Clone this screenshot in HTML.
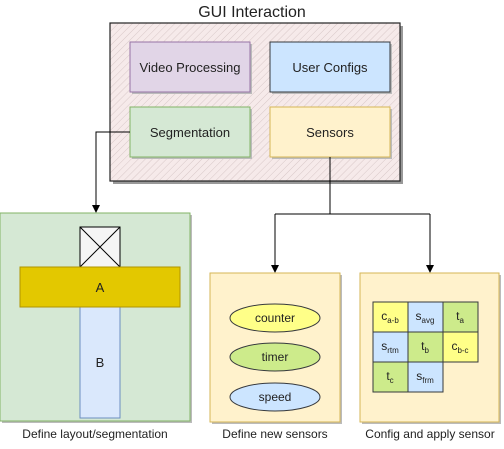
<!DOCTYPE html>
<html><head><style>
body{margin:0;width:504px;height:444px;background:#fff;overflow:hidden}
svg{font-family:"Liberation Sans",sans-serif}
</style></head><body>
<svg width="504" height="444" viewBox="0 0 504 444">
<defs>
<pattern id="h" width="5" height="5" patternUnits="userSpaceOnUse" patternTransform="rotate(45)">
<rect width="5" height="5" fill="#f6eaea"/>
<line x1="0" y1="0" x2="0" y2="5" stroke="#d8c8c8" stroke-width="1"/>
</pattern>
</defs>
<text x="252" y="17" font-size="16" text-anchor="middle" fill="#222">GUI Interaction</text>
<rect x="113" y="26" width="290" height="158" fill="#999"/>
<rect x="110" y="23" width="290" height="158" fill="url(#h)" stroke="#222" stroke-width="1.2"/>
<g stroke-width="1">
<rect x="132" y="44" width="120" height="50" fill="#bbb"/>
<rect x="130" y="42" width="120" height="50" fill="#e1d5e7" stroke="#9673a6"/>
<rect x="272" y="44" width="120" height="50" fill="#bbb"/>
<rect x="270" y="42" width="120" height="50" fill="#cce5ff" stroke="#36393d"/>
<rect x="132" y="109" width="120" height="50" fill="#bbb"/>
<rect x="130" y="107" width="120" height="50" fill="#d5e8d4" stroke="#82b366"/>
<rect x="272" y="109" width="120" height="50" fill="#bbb"/>
<rect x="270" y="107" width="120" height="50" fill="#fff2cc" stroke="#d6b656"/>
</g>
<g font-size="13" text-anchor="middle" fill="#222">
<text x="190" y="72">Video Processing</text>
<text x="330" y="72">User Configs</text>
<text x="190" y="137">Segmentation</text>
<text x="330" y="137">Sensors</text>
</g>
<g stroke="#000" fill="none" stroke-width="1">
<path d="M130 132 H96 V206"/>
<path d="M330 157 V214 M275 214 H430 M275 214 V266 M430 214 V266"/>
</g>
<g fill="#000">
<path d="M92 205 L100 205 L96 213 z"/>
<path d="M271 265 L279 265 L275 273 z"/>
<path d="M426 265 L434 265 L430 273 z"/>
</g>
<rect x="2" y="215" width="190" height="208" fill="#bbb"/>
<rect x="0" y="213" width="190" height="208" fill="#d5e8d4" stroke="#82b366"/>
<rect x="80" y="227" width="40" height="40" fill="#f5f5f5" stroke="#000"/>
<path d="M80 227 L120 267 M120 227 L80 267" stroke="#000"/>
<rect x="80" y="307" width="40" height="111" fill="#dae8fc" stroke="#6c8ebf"/>
<rect x="20" y="267" width="160" height="40" fill="#e3c800" stroke="#b09500"/>
<g font-size="13" text-anchor="middle" fill="#222">
<text x="100" y="292">A</text>
<text x="100" y="367">B</text>
</g>
<rect x="212" y="275" width="130" height="149" fill="#bbb"/>
<rect x="210" y="273" width="130" height="149" fill="#fff2cc" stroke="#d6b656"/>
<ellipse cx="275" cy="318" rx="45" ry="14" fill="#ffff88" stroke="#36393d"/>
<ellipse cx="275" cy="357" rx="45" ry="14" fill="#cdeb8b" stroke="#36393d"/>
<ellipse cx="275" cy="397" rx="45" ry="14" fill="#cce5ff" stroke="#36393d"/>
<g font-size="12" text-anchor="middle" fill="#222">
<text x="275" y="322">counter</text>
<text x="275" y="361">timer</text>
<text x="275" y="401">speed</text>
</g>
<rect x="362" y="275" width="139" height="149" fill="#bbb"/>
<rect x="360" y="273" width="139" height="149" fill="#fff2cc" stroke="#d6b656"/>
<g stroke="#36393d">
<rect x="373" y="302" width="35" height="30" fill="#ffff88"/>
<rect x="408" y="302" width="35" height="30" fill="#cce5ff"/>
<rect x="443" y="302" width="35" height="30" fill="#cdeb8b"/>
<rect x="373" y="332" width="35" height="30" fill="#cce5ff"/>
<rect x="408" y="332" width="35" height="30" fill="#cdeb8b"/>
<rect x="443" y="332" width="35" height="30" fill="#ffff88"/>
<rect x="373" y="362" width="35" height="30" fill="#cdeb8b"/>
<rect x="408" y="362" width="35" height="30" fill="#cce5ff"/>
</g>
<g font-size="12" text-anchor="middle" fill="#222">
<text x="390" y="320">c<tspan font-size="8" dy="3">a-b</tspan></text>
<text x="425" y="320">s<tspan font-size="8" dy="3">avg</tspan></text>
<text x="460" y="320">t<tspan font-size="8" dy="3">a</tspan></text>
<text x="390" y="350">s<tspan font-size="8" dy="3">rtm</tspan></text>
<text x="425" y="350">t<tspan font-size="8" dy="3">b</tspan></text>
<text x="460" y="350">c<tspan font-size="8" dy="3">b-c</tspan></text>
<text x="390" y="380">t<tspan font-size="8" dy="3">c</tspan></text>
<text x="425" y="380">s<tspan font-size="8" dy="3">frm</tspan></text>
</g>
<g font-size="12" text-anchor="middle" fill="#222">
<text x="95" y="438">Define layout/segmentation</text>
<text x="275" y="438">Define new sensors</text>
<text x="430" y="438">Config and apply sensor</text>
</g>
</svg>
</body></html>
